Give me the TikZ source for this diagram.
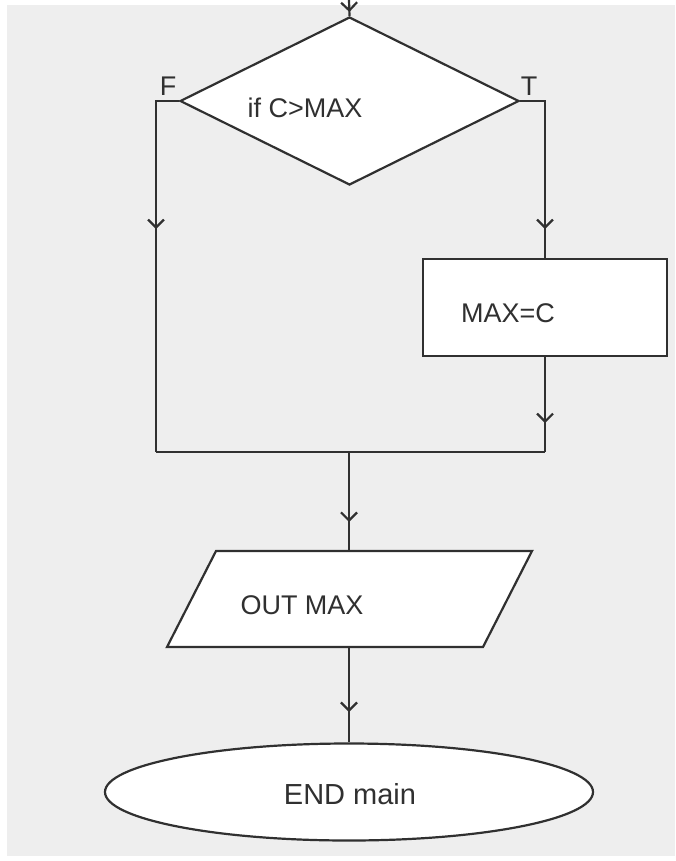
\documentclass[tikz,border=0pt]{standalone}
\usepackage{fontspec}
\setmainfont{Liberation Sans}
\usetikzlibrary{shapes.geometric,arrows.meta,decorations.markings}
\definecolor{bggray}{HTML}{EEEEEE}
\definecolor{ink}{HTML}{303030}
\tikzset{
  line/.style={draw=ink, line width=2.2pt},
  shapebox/.style={draw=ink, line width=2.2pt, fill=white, inner sep=0pt},
  txt/.style={text=ink, font=\fontsize{27}{32}\selectfont, inner sep=0pt},
  bigtxt/.style={text=ink, font=\fontsize{29}{34}\selectfont, inner sep=0pt},
  chev/.style={postaction={decorate}, decoration={markings,
     mark=at position #1 with {\arrow[ink, line width=2.2pt]{Straight Barb[length=8pt,width=16pt]}}}}
}
\begin{document}
\begin{tikzpicture}[x=1pt,y=-1pt]
\useasboundingbox (0,0) rectangle (675,861);
\fill[bggray] (7,5) rectangle (675,856);

% shapes
\node[shapebox, diamond, minimum width=339pt, minimum height=168pt] (dec) at (349.5,101) {};
\node[txt] (dect) at (305,108) {if C>MAX};
\node[shapebox, rectangle, minimum width=244pt, minimum height=97pt] (asg) at (545,307.5) {};
\node[txt] (asgt) at (508,313) {MAX=C};
\draw[line, fill=white] (216,551) coordinate (ptl) -- (532,551) coordinate (ptr)
   -- (483,647) coordinate (pbr) -- (167,647) coordinate (pbl) -- cycle;
\coordinate (outtop) at (349,551);
\coordinate (outbot) at (349,647);
\node[txt] (outt) at (302,605) {OUT MAX};
\node[shapebox, ellipse, minimum width=488pt, minimum height=97pt] (endn) at (349,792) {};
\node[bigtxt] (endt) at (350,794) {END main};

% labels
\node[txt] (flab) at (168,86) {F};
\node[txt] (tlab) at (529,86) {T};

% coordinates
\coordinate (topin) at (349,0);
\coordinate (fc) at (156,101);
\coordinate (fl) at (156,452);
\coordinate (tc) at (545,101);
\coordinate (tl) at (545,452);
\coordinate (merge) at (349,452);

% connectors
\draw[line, chev=12pt] (topin) -- (dec.north);
\draw[line, chev=151pt] (dec.west) -- (fc) -- (fl);
\draw[line, chev=153pt] (dec.east) -- (tc) -- (asg.north);
\draw[line, chev=66pt] (asg.south) -- (tl);
\draw[line] (fl) -- (tl);
\draw[line, chev=70pt] (merge) -- (outtop);
\draw[line, chev=65pt] (outbot) -- (endn.north);
\end{tikzpicture}
\end{document}
